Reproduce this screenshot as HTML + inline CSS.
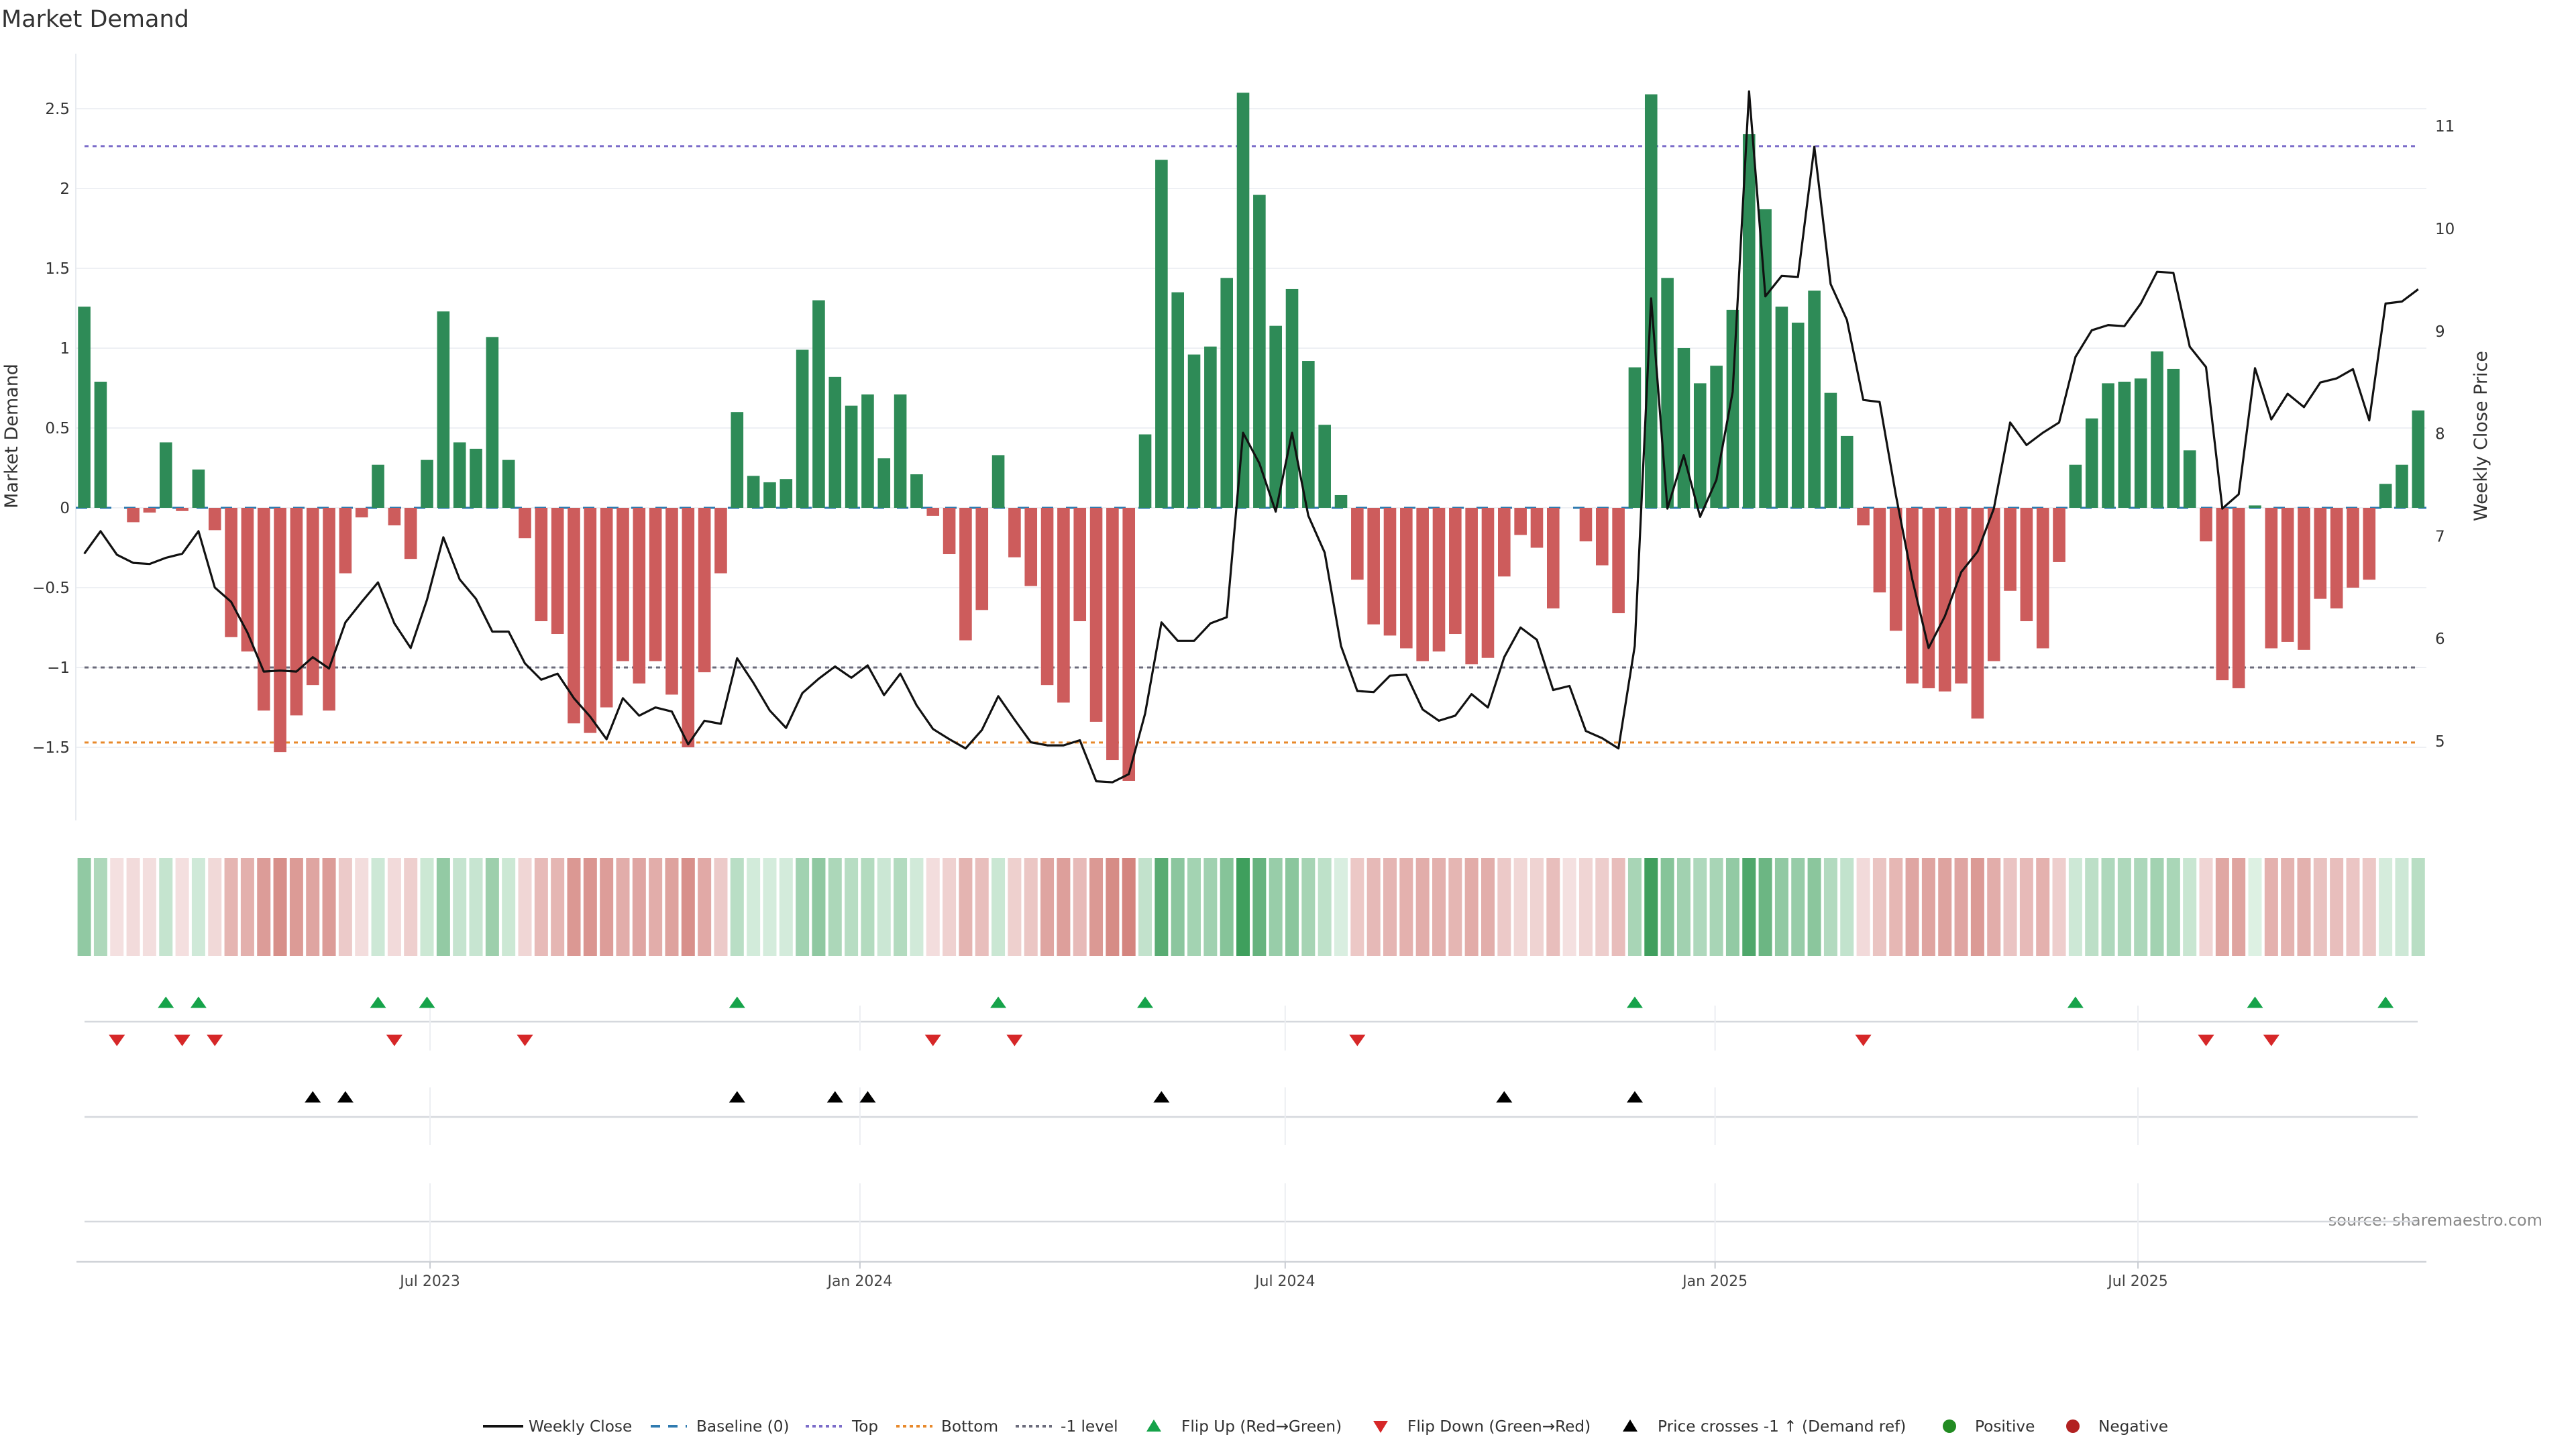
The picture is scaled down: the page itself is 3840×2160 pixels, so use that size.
<!DOCTYPE html>
<html><head><meta charset="utf-8"><style>
html,body{margin:0;padding:0;background:#fff;}
svg{display:block;font-family:"DejaVu Sans","Liberation Sans",sans-serif;}
</style></head><body>
<svg id="chart" width="3840" height="2160" viewBox="0 0 3840 2160" xmlns="http://www.w3.org/2000/svg">
<rect width="3840" height="2160" fill="#fff"/>
<text x="2" y="40" font-size="35" fill="#333">Market Demand</text>
<text transform="translate(26,650) rotate(-90)" text-anchor="middle" font-size="27" fill="#333">Market Demand</text>
<text transform="translate(3707,650) rotate(-90)" text-anchor="middle" font-size="27" fill="#333">Weekly Close Price</text>
<text x="3790" y="1827" text-anchor="end" font-size="24" fill="#888">source: sharemaestro.com</text>
<g id="grid"></g><g id="refs"></g><g id="bars"></g><g id="line"></g><g id="heat"></g><g id="marks"></g><g id="xaxis"></g><g id="legend"></g>
</svg>
<script>
// ---- data ----
const startDate = '2023-02-03';
const demand = [1.26,0.79,0,-0.09,-0.03,0.41,-0.02,0.24,-0.14,-0.81,-0.90,-1.27,-1.53,-1.30,-1.11,-1.27,-0.41,-0.06,0.27,-0.11,-0.32,0.30,1.23,0.41,0.37,1.07,0.30,-0.19,-0.71,-0.79,-1.35,-1.41,-1.25,-0.96,-1.10,-0.96,-1.17,
-1.50,-1.03,-0.41,0.60,0.20,0.16,0.18,0.99,1.30,0.82,0.64,0.71,0.31,0.71,0.21,-0.05,-0.29,-0.83,-0.64,0.33,-0.31,-0.49,-1.11,-1.22,-0.71,-1.34,-1.58,-1.71,0.46,2.18,1.35,0.96,1.01,1.44,2.60,1.96,
1.14,1.37,0.92,0.52,0.08,-0.45,-0.73,-0.80,-0.88,-0.96,-0.90,-0.79,-0.98,-0.94,-0.43,-0.17,-0.25,-0.63,0,-0.21,-0.36,-0.66,0.88,2.59,1.44,1.00,0.78,0.89,1.24,2.34,1.87,1.26,1.16,1.36,0.72,0.45,-0.11,-0.53,-0.77,-1.10,-1.13,-1.15,
-1.10,-1.32,-0.96,-0.52,-0.71,-0.88,-0.34,0.27,0.56,0.78,0.79,0.81,0.98,0.87,0.36,-0.21,-1.08,-1.13,0.015,-0.88,-0.84,-0.89,-0.57,-0.63,-0.50,-0.45,0.15,0.27,0.61];
const closePrice = [6.83,7.05,6.82,6.74,6.73,6.79,6.83,7.05,6.50,6.36,6.06,5.68,5.69,5.68,5.82,5.71,6.16,6.36,6.55,6.15,5.91,6.38,6.99,6.58,6.39,6.07,6.07,5.76,5.60,5.66,5.42,5.24,5.02,5.42,
5.25,5.33,5.29,4.97,5.20,5.17,5.81,5.57,5.30,5.13,5.47,5.61,5.73,5.62,5.74,5.45,5.66,5.35,5.12,5.02,4.93,5.11,5.44,5.21,4.99,4.96,4.96,5.01,4.61,4.60,4.68,5.27,6.16,5.98,5.98,6.15,6.21,8.01,7.71,
7.24,8.01,7.20,6.84,5.93,5.49,5.48,5.64,5.65,5.31,5.20,5.25,5.46,5.33,5.82,6.11,5.99,5.50,5.54,5.10,5.03,4.93,5.93,9.32,7.27,7.79,7.19,7.55,8.41,11.34,9.34,9.54,9.53,10.80,9.46,9.11,8.33,8.31,7.40,
6.58,5.91,6.22,6.65,6.85,7.27,8.11,7.89,8.01,8.11,8.75,9.01,9.06,9.05,9.27,9.58,9.57,8.85,8.65,7.27,7.41,8.64,8.14,8.39,8.26,8.50,8.54,8.63,8.13,9.27,9.29,9.41];
const leftTicks = [-1.5,-1,-0.5,0,0.5,1,1.5,2,2.5];
const leftTickLabels = ['\u22121.5','\u22121','\u22120.5','0','0.5','1','1.5','2','2.5'];
const rightTicks = [5,6,7,8,9,10,11];
const dateTicks = ['2023-07-01','2024-01-01','2024-07-01','2025-01-01','2025-07-01'];
const dateTickLabels = ['Jul 2023','Jan 2024','Jul 2024','Jan 2025','Jul 2025'];
const topLevel = 2.265, bottomLevel = -1.47, minusLevel = -1;

// ---- scales ----
const NS='http://www.w3.org/2000/svg';
const X0=125.6, STEP=24.33, PL=113, PR=3617;
const d0 = Date.parse(startDate);
function xi(i){return X0+i*STEP;}
function xd(s){return X0+(Date.parse(s)-d0)/(7*864e5)*24.38;}
function yL(v){return 757-v*238;}
function yR(p){return 1105-(p-5)*152.8;}
function pFromY(y){return 5+(1105-y)/152.8;}
function el(tag,attrs,parent,txt){const e=document.createElementNS(NS,tag);for(const k in attrs)e.setAttribute(k,attrs[k]);if(txt!==undefined)e.textContent=txt;parent.appendChild(e);return e;}
const G=id=>document.getElementById(id);

// grid + axes
const grid=G('grid');
leftTicks.forEach((t,k)=>{
  el('line',{x1:PL,x2:PR,y1:yL(t),y2:yL(t),stroke:'#eef0f4','stroke-width':2},grid);
  const lb=el('text',{x:104,y:yL(t)+8,'text-anchor':'end','font-size':23,fill:'#333'},grid,leftTickLabels[k]);
  
  
});
rightTicks.forEach(t=>{
  const lb=el('text',{x:3630,y:yR(t)+8,'font-size':23,fill:'#333'},grid,String(t));
  
  
});
el('line',{x1:PL,x2:PL,y1:80,y2:1223,stroke:'#e8ebf0','stroke-width':2},grid);

// reference lines
const refs=G('refs');
const bl=el('line',{x1:PL,x2:PR,y1:yL(0),y2:yL(0),stroke:'#2f7bb0','stroke-width':3,'stroke-dasharray':'17 19'},refs);


const tl=el('line',{x1:126,x2:3604,y1:yL(topLevel),y2:yL(topLevel),stroke:'#7b6cc9','stroke-width':3,'stroke-dasharray':'6 6'},refs);


const ml=el('line',{x1:126,x2:3604,y1:yL(minusLevel),y2:yL(minusLevel),stroke:'#6b6b7b','stroke-width':3,'stroke-dasharray':'6 6'},refs);


const bo=el('line',{x1:126,x2:3604,y1:yL(bottomLevel),y2:yL(bottomLevel),stroke:'#e8892b','stroke-width':3,'stroke-dasharray':'6 6'},refs);



// bars
const bars=G('bars');
demand.forEach((v,i)=>{
  if(v===0)return;
  const y=Math.min(yL(v),yL(0)),h=Math.abs(yL(v)-yL(0));
  const r=el('rect',{x:xi(i)-9.3,y:y,width:18.6,height:Math.max(h,1),fill:v>0?'#2e8b57':'#cd5c5c'},bars);
  
  
});

// price line
const pts=closePrice.map((p,i)=>xi(i).toFixed(1)+','+yR(p).toFixed(1)).join(' ');
const pl=el('polyline',{points:pts,fill:'none',stroke:'#111','stroke-width':3.2,'stroke-linejoin':'round'},G('line'));



// heatmap strip
function mix(a,b,t){return 'rgb('+a.map((c,k)=>Math.round(c+(b[k]-c)*t)).join(',')+')';}
const heat=G('heat');
demand.forEach((v,i)=>{
  const c = v>0 ? mix([222,241,228],[63,159,93],Math.min(v/2.6,1)) : mix([244,224,224],[212,133,127],Math.min(-v/1.71,1));
  const r=el('rect',{x:xi(i)-10,y:1279,width:20,height:146,fill:c},heat);
  
  
});

// subplot lines
const marks=G('marks');
[1523,1665,1821].forEach(y=>el('line',{x1:126,x2:3604,y1:y,y2:y,stroke:'#d5d8dd','stroke-width':2.5},marks));
dateTicks.forEach(d=>{const x=xd(d);
  [[1499,1566],[1621,1707],[1764,1881]].forEach(s=>el('line',{x1:x,x2:x,y1:s[0],y2:s[1],stroke:'#eceef2','stroke-width':2},marks));});
function tri(x,y,up,col){const w=12,h=8.5;
  const p=up?`${x-w},${y+h} ${x+w},${y+h} ${x},${y-h}`:`${x-w},${y-h} ${x+w},${y-h} ${x},${y+h}`;
  return el('polygon',{points:p,fill:col},marks);}
const priceRef=pFromY(yL(minusLevel));
for(let i=1;i<demand.length;i++){
  if(demand[i]>0&&demand[i-1]<=0){const t=tri(xi(i),1494,true,'#16a34a');
    
    }
  if(demand[i]<=0&&demand[i-1]>0){const t=tri(xi(i),1551,false,'#d62728');
    
    }
  if(closePrice[i]>priceRef&&closePrice[i-1]<=priceRef){const t=tri(xi(i),1635,true,'#000');
    
    }
}

// x axis
const xa=G('xaxis');
el('line',{x1:114,x2:PR,y1:1881,y2:1881,stroke:'#d0d3d8','stroke-width':2.5},xa);
dateTicks.forEach((d,k)=>{const x=xd(d);
  el('line',{x1:x,x2:x,y1:1881,y2:1891,stroke:'#c8ccd2','stroke-width':2},xa);
  const t=el('text',{x:x,y:1917,'text-anchor':'middle','font-size':22,fill:'#444'},xa,dateTickLabels[k]);
  
  
});

// legend
const lg=G('legend'),LY=2126;
function item(name,mx,tx,label,draw){
  const g=el('g',{},lg);
  
  
  draw(g,mx);
  el('text',{x:tx,y:LY+8,'font-size':23.2,fill:'#333'},g,label);
}
item('legend-weekly-close',720,788,'Weekly Close',(g,x)=>el('line',{x1:x,x2:x+60,y1:LY,y2:LY,stroke:'#111','stroke-width':4},g));
item('legend-baseline',970,1038,'Baseline (0)',(g,x)=>el('line',{x1:x,x2:x+54,y1:LY,y2:LY,stroke:'#2f7bb0','stroke-width':4,'stroke-dasharray':'14 12'},g));
item('legend-top',1201,1270,'Top',(g,x)=>el('line',{x1:x,x2:x+54,y1:LY,y2:LY,stroke:'#7b6cc9','stroke-width':4,'stroke-dasharray':'5 5'},g));
item('legend-bottom',1336,1403,'Bottom',(g,x)=>el('line',{x1:x,x2:x+54,y1:LY,y2:LY,stroke:'#e8892b','stroke-width':4,'stroke-dasharray':'5 5'},g));
item('legend-minus-one',1514,1581,'-1 level',(g,x)=>el('line',{x1:x,x2:x+54,y1:LY,y2:LY,stroke:'#6b6b7b','stroke-width':4,'stroke-dasharray':'5 5'},g));
item('legend-flip-up',1720,1761,'Flip Up (Red\u2192Green)',(g,x)=>el('polygon',{points:`${x-11},${LY+8} ${x+11},${LY+8} ${x},${LY-10}`,fill:'#16a34a'},g));
item('legend-flip-down',2058,2098,'Flip Down (Green\u2192Red)',(g,x)=>el('polygon',{points:`${x-11},${LY-8} ${x+11},${LY-8} ${x},${LY+10}`,fill:'#d62728'},g));
item('legend-price-cross',2430,2471,'Price crosses -1 \u2191 (Demand ref)',(g,x)=>el('polygon',{points:`${x-11},${LY+8} ${x+11},${LY+8} ${x},${LY-10}`,fill:'#000'},g));
item('legend-positive',2906,2944,'Positive',(g,x)=>el('circle',{cx:x,cy:LY,r:10,fill:'#228b22'},g));
item('legend-negative',3090,3128,'Negative',(g,x)=>el('circle',{cx:x,cy:LY,r:10,fill:'#b22222'},g));
</script>
</body></html>
